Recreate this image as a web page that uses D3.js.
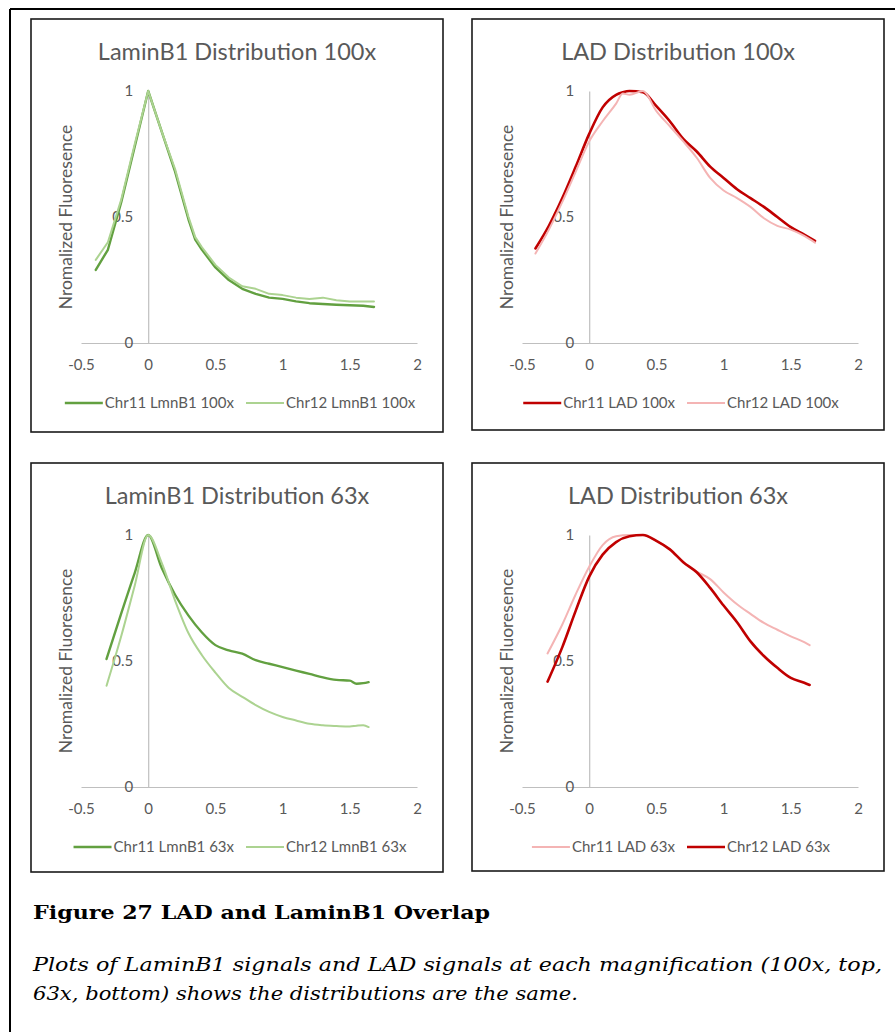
<!DOCTYPE html>
<html>
<head>
<meta charset="utf-8">
<script src="https://cdn.jsdelivr.net/npm/d3@7"></script>
<style>
  html, body { margin: 0; padding: 0; background: #fff; }
  svg { display: block; }
</style>
</head>
<body>
<svg id="chart" width="895" height="1032"></svg>
<script>
// ---------------- DATA ----------------
const xTicks = [-0.5, 0, 0.5, 1, 1.5, 2];
const yTicks = [0, 0.5, 1];

// LaminB1 100x
const xLmn100 = [-0.39, -0.3, -0.2, -0.1, 0, 0.1, 0.2, 0.3, 0.35, 0.4, 0.5, 0.6, 0.7, 0.8, 0.9, 1.0, 1.1, 1.2, 1.3, 1.4, 1.5, 1.6, 1.68];
const chr11Lmn100 = [0.29, 0.37, 0.56, 0.78, 1.0, 0.84, 0.68, 0.49, 0.41, 0.37, 0.30, 0.25, 0.215, 0.195, 0.18, 0.175, 0.165, 0.158, 0.155, 0.152, 0.15, 0.148, 0.143];
const chr12Lmn100 = [0.33, 0.40, 0.57, 0.79, 1.0, 0.84, 0.69, 0.50, 0.42, 0.38, 0.31, 0.26, 0.225, 0.215, 0.195, 0.19, 0.18, 0.175, 0.18, 0.17, 0.165, 0.165, 0.165];

// LAD 100x
const xLad100 = [-0.4, -0.3, -0.2, -0.1, 0, 0.1, 0.2, 0.25, 0.3, 0.4, 0.5, 0.6, 0.7, 0.8, 0.9, 1.0, 1.1, 1.2, 1.3, 1.4, 1.5, 1.6, 1.68];
const chr11Lad100 = [0.375, 0.465, 0.575, 0.70, 0.83, 0.935, 0.985, 0.995, 1.0, 0.995, 0.94, 0.88, 0.81, 0.76, 0.70, 0.655, 0.61, 0.575, 0.54, 0.50, 0.46, 0.43, 0.405];
const chr12Lad100 = [0.355, 0.45, 0.56, 0.68, 0.80, 0.88, 0.95, 0.99, 0.985, 1.0, 0.92, 0.86, 0.80, 0.735, 0.655, 0.605, 0.575, 0.54, 0.495, 0.465, 0.45, 0.425, 0.398];

// LaminB1 63x
const xLmn63 = [-0.31, -0.2, -0.1, 0, 0.1, 0.2, 0.3, 0.4, 0.5, 0.6, 0.7, 0.8, 0.9, 1.0, 1.1, 1.2, 1.3, 1.4, 1.5, 1.55, 1.6, 1.64];
const chr11Lmn63 = [0.508, 0.69, 0.85, 1.0, 0.87, 0.763, 0.68, 0.613, 0.563, 0.542, 0.529, 0.503, 0.489, 0.476, 0.462, 0.449, 0.435, 0.425, 0.422, 0.41, 0.412, 0.416];
const chr12Lmn63 = [0.402, 0.60, 0.80, 1.0, 0.89, 0.74, 0.61, 0.523, 0.454, 0.393, 0.358, 0.325, 0.298, 0.278, 0.264, 0.251, 0.245, 0.242, 0.24, 0.243, 0.245, 0.238];

// LAD 63x
const xLad63 = [-0.31, -0.2, -0.1, 0, 0.1, 0.2, 0.3, 0.4, 0.5, 0.6, 0.7, 0.8, 0.9, 1.0, 1.1, 1.2, 1.3, 1.4, 1.5, 1.6, 1.64];
const chr11Lad63 = [0.53, 0.645, 0.765, 0.874, 0.96, 0.995, 1.0, 1.0, 0.977, 0.943, 0.892, 0.855, 0.825, 0.772, 0.725, 0.687, 0.651, 0.624, 0.598, 0.575, 0.563];
const chr12Lad63 = [0.418, 0.555, 0.70, 0.835, 0.922, 0.972, 0.995, 1.0, 0.977, 0.943, 0.892, 0.852, 0.79, 0.72, 0.654, 0.578, 0.52, 0.473, 0.433, 0.414, 0.405];

const panelTitles = ["LaminB1 Distribution 100x", "LAD Distribution 100x", "LaminB1 Distribution 63x", "LAD Distribution 63x"];
const seriesNames = [
  ["Chr11 LmnB1 100x", "Chr12 LmnB1 100x"],
  ["Chr11 LAD 100x", "Chr12 LAD 100x"],
  ["Chr11 LmnB1 63x", "Chr12 LmnB1 63x"],
  ["Chr11 LAD 63x", "Chr12 LAD 63x"]
];
const yAxisTitle = "Nromalized Fluoresence";
const captionTitle = "Figure 27 LAD and LaminB1 Overlap";
const captionLines = [
  "Plots of LaminB1 signals and LAD signals at each magnification (100x, top,",
  "63x, bottom) shows the distributions are the same."
];

// ---------------- STYLE / LAYOUT ----------------
const C = {
  darkGreen: "#62a040", lightGreen: "#acd391",
  darkRed: "#c00000", pink: "#f4b4b4",
  text: "#595959", axis: "#bfbfbf"
};
const FONT = "Lato, 'Open Sans', sans-serif";

const panels = [
  { fx: 31, fy: 19, fw: 412, fh: 413, xs: xLmn100, ys: [chr11Lmn100, chr12Lmn100], colors: [C.darkGreen, C.lightGreen], widths: [2.4, 2], curve: d3.curveLinear },
  { fx: 472, fy: 19, fw: 412, fh: 411, xs: xLad100, ys: [chr11Lad100, chr12Lad100], colors: [C.darkRed, C.pink], widths: [2.6, 2], curve: d3.curveMonotoneX },
  { fx: 31, fy: 463, fw: 412, fh: 409, xs: xLmn63, ys: [chr11Lmn63, chr12Lmn63], colors: [C.darkGreen, C.lightGreen], widths: [2.4, 2], curve: d3.curveMonotoneX },
  { fx: 472, fy: 463, fw: 412, fh: 408, xs: xLad63, ys: [chr11Lad63, chr12Lad63], colors: [C.pink, C.darkRed], widths: [2, 2.6], curve: d3.curveMonotoneX }
];

const svg = d3.select("#chart");
svg.append("rect").attr("width", 895).attr("height", 1032).attr("fill", "#fff");

// outer frame (left and top edges visible)
svg.append("line").attr("x1", 10).attr("y1", 9).attr("x2", 895).attr("y2", 9).attr("stroke", "#000").attr("stroke-width", 2);
svg.append("line").attr("x1", 10).attr("y1", 9).attr("x2", 10).attr("y2", 1032).attr("stroke", "#000").attr("stroke-width", 2);

const fmt = d => String(d);

panels.forEach((p, i) => {
  const g = svg.append("g");
  g.append("rect")
    .attr("x", p.fx).attr("y", p.fy).attr("width", p.fw).attr("height", p.fh)
    .attr("fill", "#fff").attr("stroke", "#1a1a1a").attr("stroke-width", 1.6);

  const x = d3.scaleLinear().domain([-0.5, 2]).range([p.fx + 50, p.fx + 386]);
  const y = d3.scaleLinear().domain([0, 1]).range([p.fy + 324, p.fy + 72]);

  // title
  g.append("text")
    .attr("x", p.fx + p.fw / 2).attr("y", p.fy + 41)
    .attr("text-anchor", "middle")
    .attr("font-family", FONT).attr("font-size", 23.5)
    .attr("fill", C.text)
    .text(panelTitles[i]);

  // x axis
  const xa = g.append("g")
    .attr("transform", `translate(0,${y(0)})`)
    .call(d3.axisBottom(x).tickValues(xTicks).tickSize(0).tickPadding(16).tickFormat(fmt));
  xa.select(".domain").attr("stroke", C.axis).attr("stroke-width", 1.2);
  xa.selectAll("text").attr("font-family", FONT).attr("font-size", 15).attr("fill", C.text);

  // y axis
  const ya = g.append("g")
    .attr("transform", `translate(${x(0)},0)`)
    .call(d3.axisLeft(y).tickValues(yTicks).tickSize(0).tickPadding(15).tickFormat(fmt));
  ya.select(".domain").attr("stroke", C.axis).attr("stroke-width", 1.2);
  ya.selectAll("text").attr("font-family", FONT).attr("font-size", 15).attr("fill", C.text);

  // y axis title
  g.append("text")
    .attr("transform", `translate(${x(0) - 82},${(y(0) + y(1)) / 2}) rotate(-90)`)
    .attr("text-anchor", "middle")
    .attr("dy", "0.35em")
    .attr("font-family", FONT).attr("font-size", 17.5)
    .attr("fill", C.text)
    .text(yAxisTitle);

  // lines
  const line = d3.line().x(d => x(d[0])).y(d => y(d[1])).curve(p.curve);
  p.ys.forEach((vals, s) => {
    const pts = p.xs.map((xv, k) => [xv, vals[k]]);
    g.append("path")
      .datum(pts)
      .attr("d", line)
      .attr("fill", "none")
      .attr("stroke", p.colors[s])
      .attr("stroke-width", p.widths[s])
      .attr("stroke-linejoin", "round")
      .attr("stroke-linecap", "round");
  });

  // legend
  const lg = g.append("g");
  const ly = p.fy + 384;
  const items = [];
  seriesNames[i].forEach((name, s) => {
    const it = lg.append("g");
    it.append("line").attr("x1", 0).attr("x2", 38).attr("y1", 0).attr("y2", 0)
      .attr("stroke", p.colors[s]).attr("stroke-width", p.widths[s]);
    const t = it.append("text").attr("x", 40).attr("y", 0).attr("dy", "0.35em")
      .attr("font-family", FONT).attr("font-size", 15).attr("fill", C.text).text(name);
    const w = 40 + t.node().getComputedTextLength();
    items.push({ it, w });
  });
  const gap = 12;
  const total = items.reduce((a, b) => a + b.w, 0) + gap * (items.length - 1);
  let start = p.fx + p.fw / 2 + 3 - total / 2;
  items.forEach(o => {
    o.it.attr("transform", `translate(${start},${ly})`);
    start += o.w + gap;
  });
});

// caption
svg.append("text")
  .attr("x", 33).attr("y", 919)
  .attr("font-family", "'DejaVu Serif', 'Liberation Serif', serif")
  .attr("font-weight", "bold").attr("font-size", 18.5)
  .attr("textLength", 457).attr("lengthAdjust", "spacingAndGlyphs")
  .attr("fill", "#000")
  .text(captionTitle);

const capW = [849, 545];
captionLines.forEach((t, k) => {
  svg.append("text")
    .attr("x", 33).attr("y", 971 + k * 29)
    .attr("font-family", "'DejaVu Serif', 'Liberation Serif', serif")
    .attr("font-style", "italic").attr("font-size", 19)
    .attr("textLength", capW[k]).attr("lengthAdjust", "spacingAndGlyphs")
    .attr("fill", "#000")
    .text(t);
});
</script>
</body>
</html>
